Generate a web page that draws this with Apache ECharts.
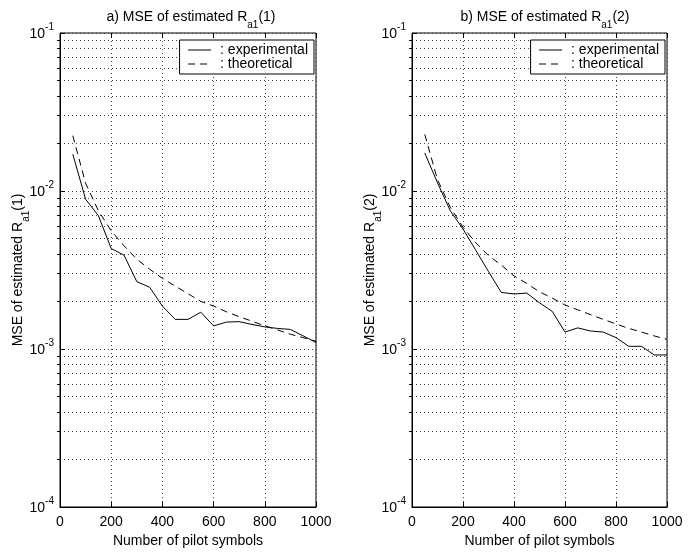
<!DOCTYPE html>
<html>
<head>
<meta charset="utf-8">
<script src="https://cdn.jsdelivr.net/npm/echarts@6/dist/echarts.min.js"></script>
<style>
  html, body { margin: 0; padding: 0; background: #fff; }
  #chart { width: 700px; height: 553px; }
</style>
</head>
<body>
<div id="chart"></div>
<script>
// pilot symbols (x values)
var pilots = [50, 100, 150, 200, 250, 300, 350, 400, 450, 500,
              550, 600, 650, 700, 750, 800, 850, 900, 950, 1000];

// a) R_a1(1)
var expA = [0.0171, 0.00887, 0.00698, 0.00432, 0.00393, 0.00267, 0.00246, 0.00187, 0.00154, 0.00154,
            0.00171, 0.00140, 0.00148, 0.00149, 0.00143, 0.00138, 0.00135, 0.00133, 0.00121, 0.00110];
var theoA = [0.0224, 0.0112, 0.0075, 0.0056, 0.0045, 0.0037, 0.0032, 0.0028, 0.0025, 0.00224,
             0.0020, 0.00187, 0.00172, 0.0016, 0.0015, 0.0014, 0.00132, 0.00124, 0.00118, 0.00112];

// b) R_a1(2)
var expB = [0.0174, 0.01127, 0.0075, 0.00575, 0.00422, 0.00309, 0.00228, 0.00223, 0.00226, 0.00196,
            0.00173, 0.00128, 0.00136, 0.00130, 0.00128, 0.00118, 0.00104, 0.00104, 0.000917, 0.000917];
var theoB = [0.0228, 0.0118, 0.0079, 0.0059, 0.0047, 0.0039, 0.0034, 0.0029, 0.0026, 0.0023,
             0.0021, 0.0019, 0.00177, 0.00165, 0.00154, 0.00144, 0.00135, 0.00128, 0.00121, 0.00115];

// minor log grid: mantissas 2..9 within each decade
var decades = [0.0001, 0.001, 0.01];
var mantissas = [2, 3, 4, 5, 6, 7, 8, 9];

function pairs(xs, ys) {
    var out = [];
    for (let i = 0; i < xs.length; i++) out.push([xs[i], ys[i]]);
    return out;
}

function minorValues() {
    var out = [];
    decades.forEach(function (d) {
        mantissas.forEach(function (m) { out.push(+(d * m).toPrecision(3)); });
    });
    return out;
}

var font = 'Liberation Sans';
var dotted = { color: '#444', type: [1, 3], width: 1 };

function powLabel(v) {
    var e = Math.round(Math.log10(v));
    return '{b|10}{e|' + e + '}';
}

function makeX(gi) {
    return {
        type: 'value', gridIndex: gi, min: 0, max: 1000, interval: 200,
        name: 'Number of pilot symbols', nameLocation: 'middle', nameGap: 27,
        nameTextStyle: { fontFamily: font, fontSize: 14, color: '#000' },
        axisLine: { show: true, lineStyle: { color: '#000' } },
        axisTick: { inside: true, length: 5, lineStyle: { color: '#000' } },
        axisLabel: { fontFamily: font, fontSize: 14, color: '#000', margin: 8,
                     formatter: function (v) { return String(v); } },
        splitLine: { show: true, lineStyle: dotted }
    };
}

function makeXTop(gi) {
    return {
        type: 'value', gridIndex: gi, min: 0, max: 1000, interval: 200, position: 'top',
        axisLine: { show: false }, axisLabel: { show: false }, splitLine: { show: false },
        axisTick: { inside: true, length: 5, lineStyle: { color: '#000' } }
    };
}

function makeY(gi, idx) {
    return {
        type: 'log', logBase: 10, gridIndex: gi, min: 0.0001, max: 0.1,
        name: '{t|MSE of estimated R}{s|a1}{t|(' + idx + ')}',
        nameLocation: 'middle', nameGap: 32, nameRotate: 90, nameMoveOverlap: false,
        nameTextStyle: {
            rich: {
                t: { fontFamily: font, fontSize: 14, color: '#000', lineHeight: 17, verticalAlign: 'top' },
                s: { fontFamily: font, fontSize: 10, color: '#000', lineHeight: 10, padding: [10, 0, 0, 0], verticalAlign: 'top' }
            }
        },
        axisLine: { show: true, lineStyle: { color: '#000' } },
        axisTick: { inside: true, length: 5, lineStyle: { color: '#000' } },
        axisLabel: {
            formatter: powLabel, margin: 6,
            rich: {
                b: { fontFamily: font, fontSize: 14, color: '#000', lineHeight: 17, verticalAlign: 'bottom' },
                e: { fontFamily: font, fontSize: 10, color: '#000', lineHeight: 10, padding: [0, 0, 9, 0], verticalAlign: 'bottom' }
            }
        },
        splitLine: { show: true, lineStyle: dotted }
    };
}

// right-hand log axis: carries the minor ticks and the minor dotted grid
function makeYRight(gi) {
    return {
        type: 'log', logBase: 10, gridIndex: gi, min: 0.0001, max: 0.1, position: 'right',
        axisLine: { show: false }, axisLabel: { show: false },
        axisTick: { inside: true, length: 3, customValues: minorValues(), lineStyle: { color: '#000' } },
        splitLine: { show: true, lineStyle: dotted }
    };
}

function makeTitle(left, letter, idx) {
    return {
        text: '{t|' + letter + ') MSE of estimated R}{s|a1}{t|(' + idx + ')}',
        left: left, top: 5, textAlign: 'center',
        textStyle: {
            rich: {
                t: { fontFamily: font, fontSize: 14, fontWeight: 'normal', color: '#000', lineHeight: 17, verticalAlign: 'top' },
                s: { fontFamily: font, fontSize: 10, fontWeight: 'normal', color: '#000', lineHeight: 10, padding: [10, 0, 0, 0], verticalAlign: 'top' }
            }
        }
    };
}

function makeLegend(right, names) {
    return {
        data: names, right: right, top: 40, orient: 'vertical',
        backgroundColor: '#fff', borderColor: '#000', borderWidth: 1,
        padding: [3, 6, 3, 8], itemGap: 0, itemWidth: 23, itemHeight: 13,
        itemStyle: { opacity: 0 },
        lineStyle: { width: 1 },
        textStyle: { fontFamily: font, fontSize: 14, color: '#000', padding: [0, 0, 0, 4] },
        formatter: function (n) { return ': ' + n.split('#')[0]; }
    };
}

var chart = echarts.init(document.getElementById('chart'), null, { renderer: 'canvas' });

function lineSeries(name, gi, xs, ys, dashed) {
    return {
        name: name, type: 'line', xAxisIndex: gi * 2, yAxisIndex: gi * 2,
        data: pairs(xs, ys), symbol: 'none', showSymbol: false, animation: false,
        lineStyle: { color: '#000', width: 1, type: dashed ? [7, 5] : 'solid' },
        itemStyle: { color: '#000' }
    };
}

chart.setOption({
    animation: false,
    title: [makeTitle(186, 'a', 1), makeTitle(540, 'b', 2)],
    legend: [makeLegend(386, ['experimental#a', 'theoretical#a']),
             makeLegend(35, ['experimental#b', 'theoretical#b'])],
    grid: [
        { left: 60, right: 384, top: 33, bottom: 40, show: true, borderColor: '#000', borderWidth: 1 },
        { left: 412, right: 33, top: 33, bottom: 40, show: true, borderColor: '#000', borderWidth: 1 }
    ],
    xAxis: [makeX(0), makeXTop(0), makeX(1), makeXTop(1)],
    yAxis: [makeY(0, 1), makeYRight(0), makeY(1, 2), makeYRight(1)],
    series: [
        lineSeries('experimental#a', 0, pilots, expA, false),
        lineSeries('theoretical#a', 0, pilots, theoA, true),
        lineSeries('experimental#b', 1, pilots, expB, false),
        lineSeries('theoretical#b', 1, pilots, theoB, true)
    ]
});
</script>
</body>
</html>
